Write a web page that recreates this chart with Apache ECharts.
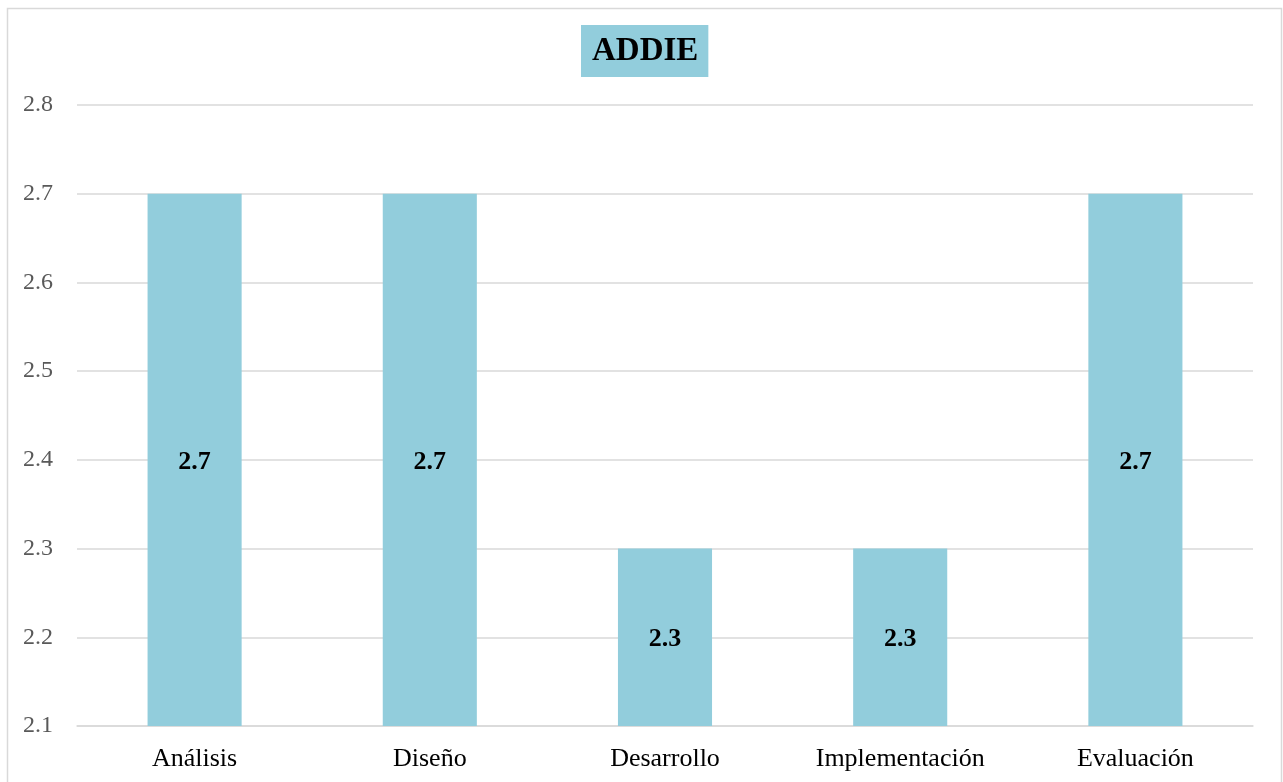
<!DOCTYPE html>
<html>
<head>
<meta charset="utf-8">
<script src="https://cdn.jsdelivr.net/npm/echarts@6/dist/echarts.min.js"></script>
<style>
  html, body { margin: 0; padding: 0; background: #fff; }
  #chart { width: 1283px; height: 782px; }
</style>
</head>
<body>
<div id="chart"></div>
<script>
const categories = ['Análisis', 'Diseño', 'Desarrollo', 'Implementación', 'Evaluación']
const values = [2.7, 2.7, 2.3, 2.3, 2.7]
const titleText = 'ADDIE'

const chart = echarts.init(document.getElementById('chart'))

const option = {
  backgroundColor: '#fff',
  animation: false,
  graphic: [{
    type: 'rect',
    shape: { x: 7.5, y: 8.5, width: 1274, height: 790 },
    style: { fill: 'none', stroke: '#d9d9d9', lineWidth: 1.5 },
    silent: true
  }],
  title: {
    text: titleText,
    left: 581,
    top: 25,
    backgroundColor: '#92cddc',
    padding: [8, 10, 8, 11],
    textStyle: {
      fontFamily: 'Liberation Serif',
      fontWeight: 'bold',
      fontSize: 33,
      color: '#000',
      lineHeight: 36
    }
  },
  grid: {
    left: 77,
    right: 30,
    top: 105,
    bottom: 56
  },
  xAxis: {
    type: 'category',
    data: categories,
    axisLine: { show: true, lineStyle: { color: '#d9d9d9', width: 1.5 } },
    axisTick: { show: false },
    axisLabel: {
      margin: 20,
      fontFamily: 'Liberation Serif',
      fontSize: 26,
      color: '#000'
    }
  },
  yAxis: {
    type: 'value',
    min: 2.1,
    max: 2.8,
    interval: 0.1,
    axisLine: { show: false },
    axisTick: { show: false },
    splitLine: { lineStyle: { color: '#d9d9d9', width: 1.5 } },
    axisLabel: {
      margin: 24,
      fontFamily: 'Liberation Serif',
      fontSize: 24,
      color: '#595959',
      formatter: (v) => v.toFixed(1)
    }
  },
  series: [{
    type: 'bar',
    data: values,
    barWidth: '40%',
    itemStyle: { color: '#92cddc' },
    label: {
      show: true,
      position: 'inside',
      offset: [0, 2],
      fontFamily: 'Liberation Serif',
      fontWeight: 'bold',
      fontSize: 26,
      color: '#000',
      formatter: (p) => p.value.toFixed(1)
    }
  }]
}

chart.setOption(option)
</script>
</body>
</html>
